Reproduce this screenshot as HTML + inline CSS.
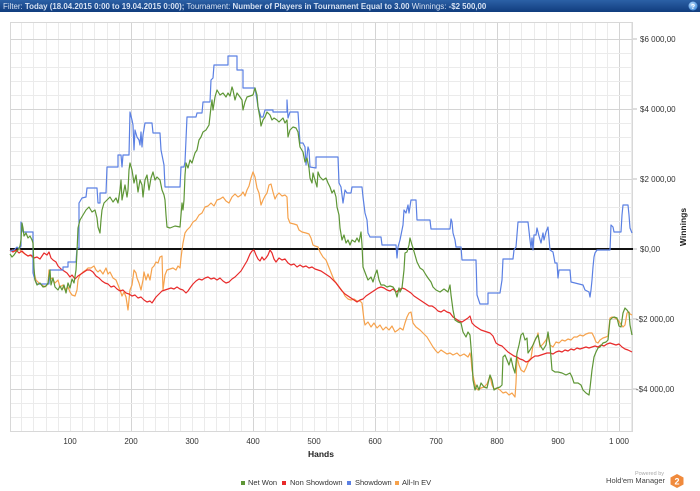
<!DOCTYPE html>
<html><head><meta charset="utf-8"><style>
html,body{margin:0;padding:0;background:#fff;width:700px;height:491px;overflow:hidden}
svg{display:block}
text{font-family:"Liberation Sans",Tahoma,sans-serif}
</style></head><body>
<svg width="700" height="491" viewBox="0 0 700 491" xmlns="http://www.w3.org/2000/svg">
<defs>
<linearGradient id="hg" x1="0" y1="0" x2="0" y2="1"><stop offset="0" stop-color="#2b60a6"/><stop offset="1" stop-color="#113d7e"/></linearGradient>
<radialGradient id="qg" cx="0.4" cy="0.35" r="0.7"><stop offset="0" stop-color="#bfe0ff"/><stop offset="1" stop-color="#3b86d6"/></radialGradient>
</defs>
<rect x="0" y="0" width="700" height="12" fill="url(#hg)"/>
<text x="3" y="9" font-size="7.9" fill="#d6e2f3">Filter: <tspan font-weight="bold">Today (18.04.2015 0:00 to 19.04.2015 0:00);</tspan> Tournament: <tspan font-weight="bold">Number of Players in Tournament Equal to 3.00</tspan> Winnings: <tspan font-weight="bold">-$2 500,00</tspan></text>
<circle cx="693" cy="6" r="4.5" fill="url(#qg)"/>
<text x="693" y="9" font-size="7" font-weight="bold" fill="#fff" text-anchor="middle">?</text>

<g id="grid" stroke-width="1" shape-rendering="crispEdges"></g>
<rect x="10.5" y="22.5" width="622" height="409" fill="none" stroke="#d8d8d8"/>
<line x1="10" y1="249" x2="633" y2="249" stroke="#111" stroke-width="2"/>

<g fill="none" stroke-width="1.2" stroke-linejoin="round">
<polyline id="orange" stroke="#f6a24c" points="10,251 13,250 16,252 19,249 22,252 25,254 28,256 30,255 33,258 34,273 36,280 39,283 42,285 45,287 48,284 49,270 50,280 52,278 55,283 58,280 60,287 63,285 65,290 68,287 70,292 72,295 75,296 77,290 78,280 80,275 83,272 86,270 88,268 91,268 94,266 96,270 98,272 100,270 103,274 106,268 108,274 110,272 113,278 116,280 118,285 120,290 122,296 124,292 126,297 128,310 130,290 132,285 134,270 136,273 137,278 139,283 141,290 143,280 144,272 146,280 148,274 150,280 152,268 154,266 156,262 158,263 160,257 162,256 163,290 165,275 167,270 170,269 173,268 176,270 178,266 180,268 181,258 182,250 183,243 185,233 187,230 190,227 193,222 196,220 199,215 202,213 205,207 208,206 211,203 214,206 217,200 220,199 223,197 226,201 229,203 232,197 235,194 238,197 241,195 243,192 245,196 247,190 249,186 251,178 253,172 255,177 257,188 259,193 261,205 263,200 265,196 267,193 269,185 271,184 273,192 275,199 277,195 279,193 282,196 285,195 287,197 288,218 290,223 294,224 297,225 299,230 302,232 306,233 309,234 311,238 313,245 315,246 318,247 320,252 323,257 326,260 328,265 330,270 332,275 334,280 337,284 340,288 343,292 345,296 348,299 351,300 354,299 357,301 360,301 362,303 364,320 365,325 368,322 371,327 374,323 377,328 380,325 383,330 386,327 389,330 392,326 395,332 398,330 400,328 403,330 405,323 407,317 409,313 411,312 413,323 416,327 420,330 423,333 427,337 430,342 433,347 436,351 438,353 441,350 444,352 447,354 450,353 453,355 457,353 460,356 464,354 468,357 470,353 471,358 472,370 474,380 476,388 478,390 481,388 484,387 487,384 490,376 492,385 494,389 497,388 500,390 503,393 506,392 509,395 512,393 515,397 516,383 517,357 519,365 521,370 524,372 526,368 529,360 531,358 533,345 535,340 537,337 538,333 540,347 543,344 546,340 548,336 550,345 553,347 556,342 559,343 562,340 565,341 568,339 571,340 574,337 577,337 580,335 583,336 586,334 589,333 592,333 594,337 596,342 598,343 600,340 603,338 606,337 608,336 610,318 612,317 615,318 618,320 620,323 623,327 625,325 627,313 629,312 630,314 632,315"/>
<polyline id="red" stroke="#e82a2a" points="10,250 13,252 16,250 19,253 22,251 25,254 28,256 31,255 34,258 37,257 40,259 42,256 44,253 47,255 49,252 51,258 53,260 56,262 58,266 61,269 64,271 67,273 70,277 72,275 75,279 78,276 81,274 84,272 87,270 90,270 93,272 96,276 99,278 102,281 105,283 108,284 111,287 114,286 117,289 120,291 123,290 126,293 129,294 132,296 135,295 138,298 141,297 144,300 147,302 150,301 152,303 154,300 156,297 159,294 162,291 165,290 168,289 171,288 174,289 177,287 180,289 183,290 186,293 188,291 190,288 193,284 196,281 199,279 202,280 205,278 208,277 211,279 214,278 217,280 220,278 223,281 226,283 229,282 232,279 235,277 238,274 241,271 244,266 247,261 250,254 252,251 254,250 256,255 258,259 260,261 262,257 264,260 266,258 268,255 270,250 272,253 274,259 276,262 279,258 282,260 285,259 288,263 291,265 294,264 297,267 300,265 303,267 306,266 309,268 312,267 315,269 318,270 321,271 324,273 327,275 330,277 333,280 336,283 339,287 342,291 345,294 348,296 351,298 354,300 357,302 360,300 363,299 366,296 369,294 372,292 375,290 378,288 381,287 384,288 387,290 390,291 393,289 396,292 399,290 402,288 405,289 408,291 411,293 414,296 417,298 420,300 423,302 426,304 429,306 432,306 435,308 438,311 441,312 444,310 447,312 450,313 453,317 456,319 459,321 462,322 465,320 468,318 470,316 472,323 475,326 478,328 481,330 484,331 487,332 490,333 493,336 496,343 499,345 502,346 505,349 508,352 511,354 514,356 517,357 520,359 523,360 526,362 529,361 532,358 535,356 538,356 541,355 544,354 547,353 550,353 553,354 556,352 559,351 562,352 565,350 568,351 571,349 574,350 577,348 580,349 583,348 586,347 589,348 592,347 595,346 598,347 601,345 604,346 607,344 610,343 613,344 616,345 619,344 622,347 625,349 628,350 630,351 632,352"/>
<polyline id="blue" stroke="#5b80e3" points="10,251 14,250 17,247 19,249 21,246 21,222 22,228 23,232 33,232 33,273 35,280 37,284 49,284 50,270 63,270 63,267 68,267 68,262 76,262 77,248 79,248 79,203 82,198 86,197 87,188 97,188 98,203 100,203 100,193 106,193 107,167 118,167 118,155 121,155 122,167 123,155 129,155 130,112 132,120 133,125 134,150 135,130 137,137 139,140 140,145 141,132 142,147 143,135 145,123 152,123 153,133 160,133 161,150 163,160 164,165 165,187 180,187 181,167 184,167 185,162 187,117 196,117 197,113 202,113 203,102 210,102 211,80 213,78 214,65 228,65 228,56 237,56 237,70 243,70 243,88 255,88 257,100 258,107 261,117 263,117 265,110 273,110 273,112 287,112 287,100 288,118 290,112 298,112 300,143 303,143 305,147 306,165 308,147 309,150 310,167 316,168 316,157 338,157 339,183 341,187 343,203 345,190 347,193 351,193 352,187 362,187 363,197 365,213 367,220 368,233 370,237 381,237 382,245 396,245 397,258 398,247 400,240 403,225 404,210 406,213 408,205 409,213 411,200 416,200 417,220 430,220 431,229 450,229 451,219 452,222 453,233 455,240 456,247 461,247 462,260 476,260 477,295 480,304 488,304 488,293 500,293 502,280 503,259 513,259 514,250 516,247 518,222 528,222 530,240 531,248 532,238 533,250 534,235 536,235 537,228 539,236 541,243 543,233 544,240 546,232 548,227 550,250 553,252 555,263 557,263 558,278 559,270 570,270 571,282 575,283 583,285 585,290 589,292 590,297 591,290 592,280 593,267 594,257 595,253 597,250 610,250 611,225 613,227 614,232 621,232 622,215 623,205 628,205 629,215 630,228 632,233"/>
<polyline id="green" stroke="#5e9636" points="10,254 12,257 14,255 16,252 18,250 20,246 21,240 22,223 23,228 24,236 26,233 28,238 30,236 32,240 33,243 34,268 35,280 37,285 40,283 43,287 46,286 48,283 50,270 51,285 53,278 55,287 58,290 60,286 62,290 64,285 66,293 68,283 70,288 72,279 74,283 76,270 77,252 78,228 80,220 83,215 86,210 89,207 92,212 95,210 97,218 98,227 100,233 101,220 102,210 104,203 107,200 110,197 113,202 116,198 118,203 120,190 121,180 122,200 124,190 125,185 127,197 128,190 129,170 130,163 132,170 134,183 136,175 138,192 140,180 142,185 143,197 145,180 147,175 149,190 151,178 153,172 155,180 157,177 160,180 162,190 164,195 165,200 166,215 167,227 170,228 175,226 180,227 181,215 182,203 183,210 184,200 185,175 186,163 188,168 190,160 192,163 195,153 197,150 199,140 201,137 203,132 206,130 209,125 211,107 212,100 213,110 215,97 217,90 220,95 223,93 226,97 228,93 230,96 232,87 233,90 235,100 237,93 240,97 242,100 243,110 245,102 247,97 250,96 253,95 255,88 257,95 258,107 260,118 261,126 263,120 265,117 267,112 270,115 272,120 274,118 277,120 279,122 281,120 283,118 285,123 287,120 288,137 290,130 293,127 296,128 298,132 300,147 303,152 305,162 307,158 309,168 310,178 312,183 313,173 315,180 317,187 318,172 320,177 323,180 326,178 328,183 330,187 332,193 334,190 336,197 337,207 339,215 340,228 342,240 344,235 346,243 348,240 350,245 352,240 355,242 357,238 359,242 361,232 362,245 363,267 366,275 368,280 371,277 373,282 375,275 377,270 379,280 381,285 384,285 387,287 390,286 393,287 395,290 397,297 399,288 400,292 402,288 404,270 405,253 407,252 409,245 410,238 412,245 413,248 415,255 417,262 420,268 423,270 426,275 428,278 431,282 433,287 436,290 440,292 444,289 448,292 450,285 451,295 453,310 455,320 458,322 461,323 463,332 466,337 468,332 470,335 472,360 473,380 475,390 477,385 479,390 481,383 484,387 487,388 490,375 492,380 494,390 497,388 500,387 502,385 503,357 505,355 507,360 509,365 511,358 513,367 515,373 517,353 519,345 521,335 523,333 525,340 527,338 528,353 530,350 533,345 536,338 538,335 540,345 543,350 546,345 548,332 550,345 552,370 555,372 558,372 562,373 566,375 570,373 572,377 574,383 578,383 581,385 583,390 586,393 589,395 590,388 592,370 594,357 596,352 598,348 600,347 603,343 606,342 608,340 610,320 612,318 614,317 617,318 619,326 621,327 623,313 625,308 627,310 629,313 630,325 632,335"/>
</g>

<g font-size="8" fill="#333" text-anchor="middle">
<text x="70" y="444">100</text><text x="131" y="444">200</text><text x="192" y="444">300</text><text x="253" y="444">400</text><text x="314" y="444">500</text><text x="375" y="444">600</text><text x="436" y="444">700</text><text x="497" y="444">800</text><text x="558" y="444">900</text><text x="619" y="444">1 000</text>
</g>
<text x="321" y="457" font-size="8.5" font-weight="bold" fill="#222" text-anchor="middle">Hands</text>
<g font-size="8" fill="#333">
<text x="640" y="42">$6 000,00</text><text x="640" y="112">$4 000,00</text><text x="640" y="182">$2 000,00</text><text x="640" y="252">$0,00</text><text x="636" y="322">-$2 000,00</text><text x="636" y="392">-$4 000,00</text>
</g>
<g stroke="#bbb" shape-rendering="crispEdges"><line x1="633" y1="39" x2="637" y2="39"/><line x1="633" y1="109" x2="637" y2="109"/><line x1="633" y1="179" x2="637" y2="179"/><line x1="633" y1="249" x2="637" y2="249"/><line x1="633" y1="319" x2="637" y2="319"/><line x1="633" y1="389" x2="637" y2="389"/></g>
<text transform="translate(686,227) rotate(-90)" font-size="8.5" font-weight="bold" fill="#222" text-anchor="middle">Winnings</text>

<g font-size="7.5" fill="#333">
<rect x="241" y="481" width="4" height="4" fill="#5e9636"/><text x="248" y="485">Net Won</text>
<rect x="282" y="481" width="4" height="4" fill="#e82a2a"/><text x="290" y="485">Non Showdown</text>
<rect x="347" y="481" width="4" height="4" fill="#5b80e3"/><text x="355" y="485">Showdown</text>
<rect x="395" y="481" width="4" height="4" fill="#f6a24c"/><text x="402" y="485">All-In EV</text>
</g>
<text x="664" y="475" font-size="5.5" fill="#aaa" text-anchor="end">Powered by</text>
<text x="665" y="483" font-size="7.5" fill="#444" text-anchor="end">Hold'em Manager</text>
<polygon points="677,474 683.5,477.5 683.5,484.5 677,488 670.5,484.5 670.5,477.5" fill="#f08a3c"/>
<text x="677" y="484.5" font-size="9" font-weight="bold" fill="#fff" text-anchor="middle">2</text>
</svg>
<script>
(function(){
var g=document.getElementById('grid'),s='';
for(var k=1;k<=51;k++){var x=Math.round(9+12.2*k)+0.5;if(x>632)break;var maj=(k%10==0);
s+='<line x1="'+x+'" y1="22" x2="'+x+'" y2="432" stroke="'+(maj?'#d4d4d4':'#ebebeb')+'"/>';}
for(var j=-15;j<=13;j++){if(j==0)continue;var y=249+14*j+0.5;var maj=(j%5==0);
s+='<line x1="10" y1="'+y+'" x2="633" y2="'+y+'" stroke="'+(maj?'#d4d4d4':'#ebebeb')+'"/>';}
g.innerHTML=s;
})();
</script>
</body></html>
